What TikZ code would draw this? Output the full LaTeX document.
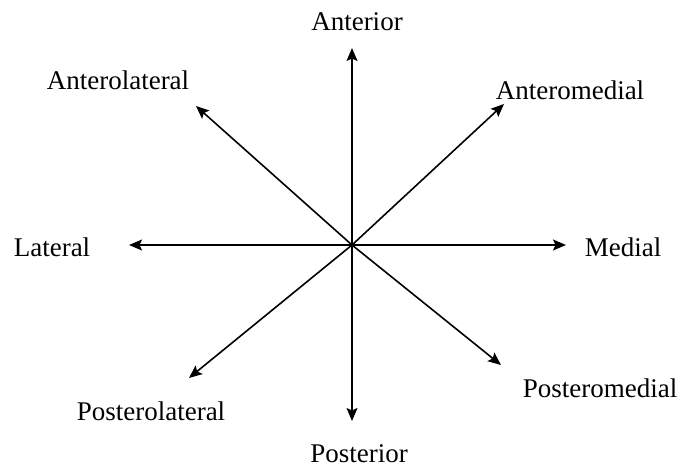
\documentclass[tikz,border=0pt]{standalone}
\usepackage{fontspec}
\setmainfont{Liberation Serif}
\usetikzlibrary{arrows.meta}
\begin{document}
\begin{tikzpicture}[x=1pt,y=-1pt,
  lbl/.style={inner sep=0pt,font=\fontsize{27}{32}\selectfont},
  ray/.style={line width=1.6pt,-{Stealth[length=13pt,width=11pt,inset=2.5pt]}}]
\useasboundingbox (0,0) rectangle (678,468);
\coordinate (c) at (352,245);
\coordinate (tN) at (352,48);
\coordinate (tS) at (352,421);
\coordinate (tW) at (129,245);
\coordinate (tE) at (566,245);
\coordinate (tNW) at (196,106);
\coordinate (tNE) at (504,104);
\coordinate (tSW) at (189,378);
\coordinate (tSE) at (501,365);
\foreach \t in {tN,tS,tW,tE,tNW,tNE,tSW,tSE} \draw[ray] (c) -- (\t);
\node[lbl] (ant) at (357,22) {Anterior};
\node[lbl] (antlat) at (118,80) {Anterolateral};
\node[lbl] (antmed) at (570,90) {Anteromedial};
\node[lbl] (lat) at (52,247) {Lateral};
\node[lbl] (med) at (623,247) {Medial};
\node[lbl] (postmed) at (600,388) {Posteromedial};
\node[lbl] (postlat) at (151,411) {Posterolateral};
\node[lbl] (post) at (359,454) {Posterior};
\end{tikzpicture}
\end{document}
